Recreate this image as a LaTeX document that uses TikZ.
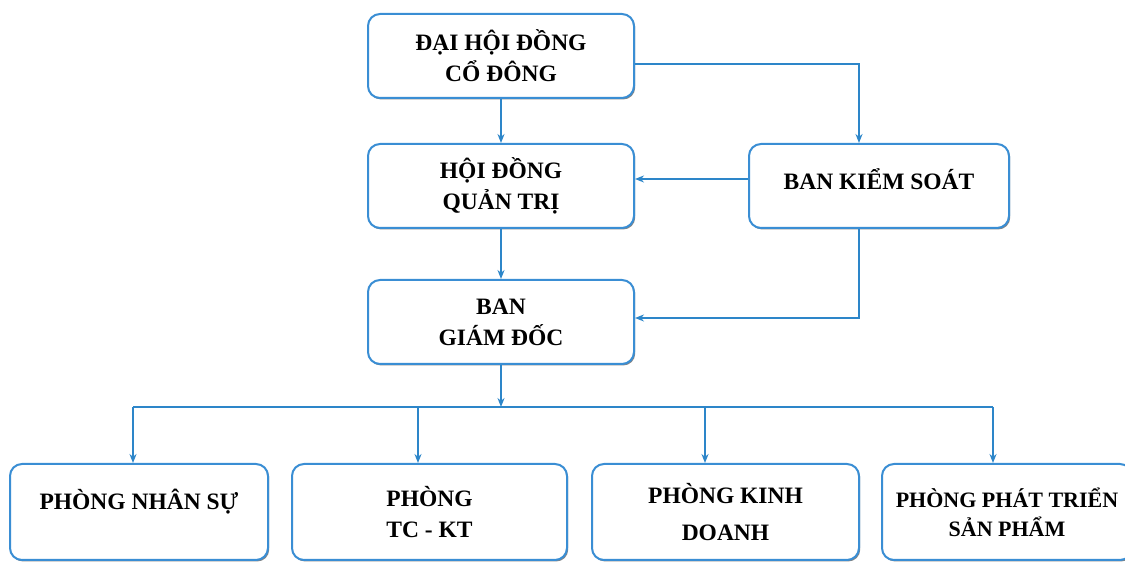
\documentclass[tikz,border=0pt]{standalone}
\usepackage{fontspec}
\setmainfont{Liberation Serif}
\usetikzlibrary{arrows.meta,positioning,shadows}
\definecolor{lineblue}{HTML}{2D86C9}
\definecolor{boxblue}{HTML}{3A8ED4}

\begin{document}
\begin{tikzpicture}[x=1pt,y=1pt,->,>={Stealth[length=9pt,width=7pt]},semithick]
  \tikzstyle{unit}=[draw=boxblue, line width=2pt, rounded corners=12pt, fill=white,
    align=center, font=\fontsize{23.5}{31}\selectfont\bfseries,
    minimum width=266pt, minimum height=84pt,
    drop shadow={shadow xshift=1.2pt, shadow yshift=-1.5pt, fill=black!60, opacity=.8}]
  \tikzstyle{dept}=[unit, minimum height=96pt]
  \tikzstyle{link}=[draw=lineblue, line width=1.6pt]

 \useasboundingbox (0,0) rectangle (1125,562);

 \node[unit] at (501,506) (dhd){ĐẠI HỘI ĐỒNG\\CỔ ĐÔNG};
 \node[unit, below=44pt of dhd](hdqt){HỘI ĐỒNG\\QUẢN TRỊ};
 \node[unit, right=113pt of hdqt, minimum width=260pt, text depth=14pt](bks){BAN KIỂM SOÁT};
 \node[unit, below=50pt of hdqt](bgd){BAN\\GIÁM ĐỐC};

 \node[dept, minimum width=258pt, text depth=26pt] at (139,50) (pns){PHÒNG NHÂN SỰ};
 \node[dept, right=22pt of pns, minimum width=275pt](tckt){PHÒNG\\TC - KT};
 \node[dept, right=23pt of tckt, minimum width=267pt](kd){PHÒNG KINH\\[6pt]DOANH};
 \node[dept, right=21pt of kd, minimum width=250pt, font=\fontsize{22}{29}\selectfont\bfseries](ptsp){PHÒNG PHÁT TRIỂN\\SẢN PHẨM};

 % bus to the departments
 \coordinate (j1) at (133,155);
 \coordinate (j2) at (418,155);
 \coordinate (j3) at (705,155);
 \coordinate (j4) at (993,155);

 \draw[link] (dhd.south) -- (hdqt.north);
 \draw[link] ([yshift=-8pt]dhd.east) -| ([xshift=-20pt]bks.north);
 \draw[link] ([yshift=7pt]bks.west) -- ([yshift=7pt]bks.west -| hdqt.east);
 \draw[link] (hdqt.south) -- (bgd.north);
 \draw[link] ([xshift=-20pt]bks.south) |- ([yshift=4pt]bgd.east);
 \draw[link] (bgd.south) -- (bgd.south |- j1);
 \draw[link,-] (j1) -- (j4);
 \foreach \j/\b in {j1/pns,j2/tckt,j3/kd,j4/ptsp}
   \draw[link] (\j) -- (\j |- \b.north);

\end{tikzpicture}
\end{document}
